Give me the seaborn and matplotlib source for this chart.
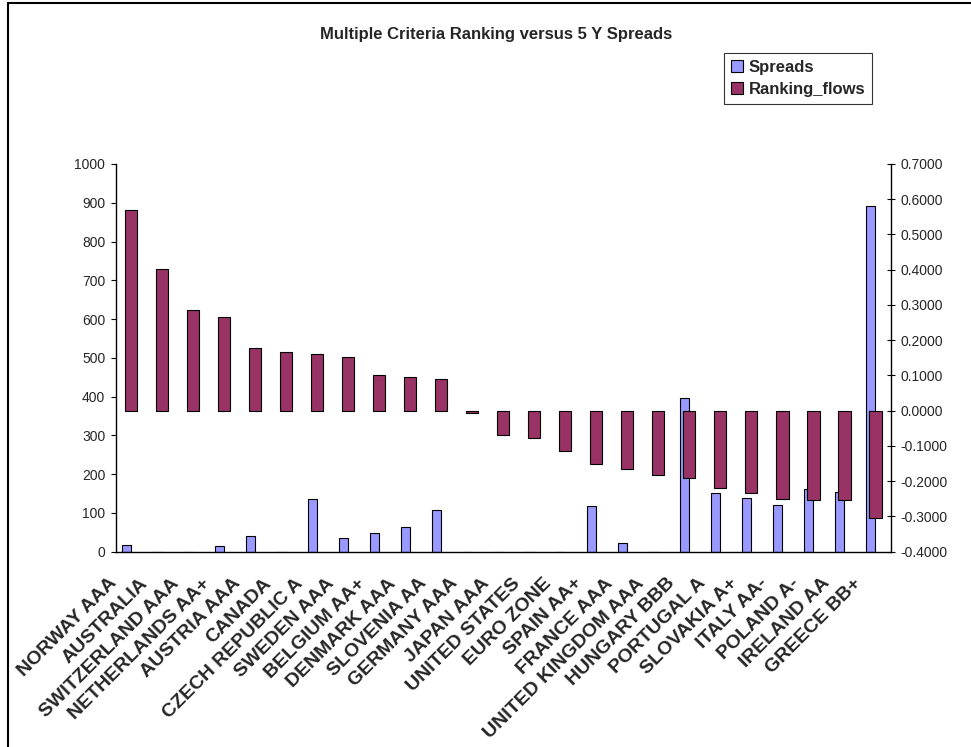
import matplotlib
matplotlib.use("Agg")
import matplotlib.pyplot as plt
import matplotlib.transforms as mtransforms
from matplotlib.lines import Line2D
import numpy as np
import pandas as pd
import seaborn as sns

countries = [
    "NORWAY AAA", "AUSTRALIA", "SWITZERLAND AAA", "NETHERLANDS AA+", "AUSTRIA AAA",
    "CANADA", "CZECH REPUBLIC A", "SWEDEN AAA", "BELGIUM AA+", "DENMARK AAA",
    "SLOVENIA AA", "GERMANY AAA", "JAPAN AAA", "UNITED STATES", "EURO ZONE",
    "SPAIN AA+", "FRANCE AAA", "UNITED KINGDOM AAA", "HUNGARY BBB", "PORTUGAL A",
    "SLOVAKIA A+", "ITALY AA-", "POLAND A-", "IRELAND AA", "GREECE BB+",
]
spreads = [16, 0, 0, 14, 41, 0, 135, 35, 48, 64, 108, 0, 0, 0, 0,
           119, 22, 0, 396, 151, 138, 121, 161, 155, 891]
ranking_flows = [0.569, 0.403, 0.285, 0.266, 0.177, 0.167, 0.162, 0.153, 0.100,
                 0.096, 0.091, -0.007, -0.068, -0.078, -0.115, -0.150, -0.166,
                 -0.183, -0.192, -0.220, -0.234, -0.250, -0.254, -0.254, -0.305]
left_ticks = list(range(0, 1001, 100))
right_ticks = [-0.4, -0.3, -0.2, -0.1, 0.0, 0.1, 0.2, 0.3, 0.4, 0.5, 0.6, 0.7]

df = pd.DataFrame({"country": countries, "Spreads": spreads,
                   "Ranking_flows": ranking_flows})

sns.set_style("white")
plt.rcParams["font.family"] = ["Liberation Sans", "DejaVu Sans"]

SPREAD_COLOR = "#9999FF"
FLOW_COLOR = "#993366"

fig = plt.figure(figsize=(9.71, 7.47), dpi=100)
ax = fig.add_axes([0.1192, 0.2615, 0.7984, 0.519])

# spreads on the left axis, bars sit just left of each category centre
sns.barplot(data=df, x="country", y="Spreads", color=SPREAD_COLOR, saturation=1,
            width=0.31, edgecolor="black", linewidth=0.8, ax=ax)
for i, p in enumerate(ax.patches):
    p.set_x(i - 0.31)

ax2 = ax.twinx()
sns.barplot(data=df, x="country", y="Ranking_flows", color=FLOW_COLOR, saturation=1,
            width=0.39, edgecolor="black", linewidth=0.8, ax=ax2)

ax.set_xlim(-0.5, len(countries) - 0.5)
ax2.set_xlim(-0.5, len(countries) - 0.5)
ax.set_ylim(0, 1000)
ax2.set_ylim(-0.4, 0.7)

ax.set_yticks(left_ticks)
ax.set_yticklabels([str(v) for v in left_ticks], fontsize=10)
ax2.set_yticks(right_ticks)
ax2.set_yticklabels([f"{v + 0.0:.4f}" for v in right_ticks], fontsize=10)

ax.set_xticks(range(len(countries)))
ax.set_xticks(np.arange(-0.5, len(countries)), minor=True)
ax.set_xticklabels(countries, rotation=45, ha="right", va="center",
                   rotation_mode="anchor", fontsize=14, fontweight="bold")

ax.tick_params(axis="x", which="major", length=0, pad=21)
ax.tick_params(axis="x", which="minor", length=4, width=0.8, direction="out",
               color="black")
ax.tick_params(axis="y", length=3.5, width=0.8, direction="out", color="black",
               pad=4)
ax2.tick_params(axis="y", length=6, width=0.8, direction="inout", color="black",
                pad=4)

# nudge the slanted category names left so they end just under their bars
shift = mtransforms.ScaledTranslation(-17 / 100, 0, fig.dpi_scale_trans)
for lbl in ax.get_xticklabels():
    lbl.set_transform(lbl.get_transform() + shift)

ax.set_xlabel("")
ax.set_ylabel("")
ax2.set_ylabel("")

for s in ("top", "right"):
    ax.spines[s].set_visible(False)
for s in ("top", "left", "bottom"):
    ax2.spines[s].set_visible(False)
for s in ("left", "bottom"):
    ax.spines[s].set_color("black")
    ax.spines[s].set_linewidth(1.0)
ax2.spines["right"].set_color("black")
ax2.spines["right"].set_linewidth(1.0)

fig.text(496 / 971, 1 - 34 / 747, "Multiple Criteria Ranking versus 5 Y Spreads",
         ha="center", va="center", fontsize=12, fontweight="bold")

handles = [
    Line2D([], [], marker="s", linestyle="none", markersize=8,
           markerfacecolor=SPREAD_COLOR, markeredgecolor="black", markeredgewidth=0.8),
    Line2D([], [], marker="s", linestyle="none", markersize=8,
           markerfacecolor=FLOW_COLOR, markeredgecolor="black", markeredgewidth=0.8),
]
leg = fig.legend(handles, ["Spreads", "Ranking_flows"], loc="upper left",
                 bbox_to_anchor=(724 / 971, 1 - 53 / 747), frameon=True,
                 fancybox=False, borderaxespad=0, handlelength=0.8,
                 handletextpad=0.3, borderpad=0.4, labelspacing=0.45,
                 prop={"size": 12, "weight": "bold"})
leg.get_frame().set_edgecolor("black")
leg.get_frame().set_linewidth(0.8)

# outer chart frame
fig.add_artist(Line2D([8 / 971, 1.0], [1 - 3 / 747, 1 - 3 / 747],
                      transform=fig.transFigure, color="black", lw=1.5))
fig.add_artist(Line2D([8 / 971, 8 / 971], [0.0, 1 - 3 / 747],
                      transform=fig.transFigure, color="black", lw=1.5))

fig.savefig("out.png", dpi=100)
